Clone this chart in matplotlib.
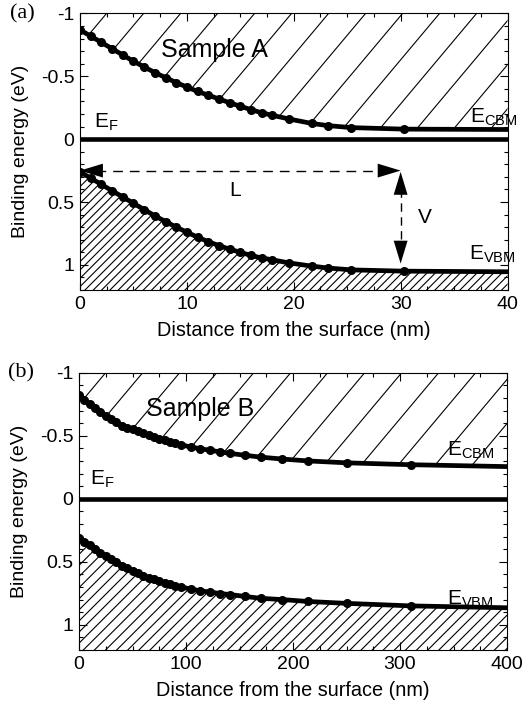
import numpy as np
import matplotlib
matplotlib.use('Agg')
import matplotlib.pyplot as plt
from matplotlib.patches import Polygon
from matplotlib.ticker import MultipleLocator, FixedLocator, FixedFormatter

plt.rcParams['font.family'] = ['Liberation Sans', 'DejaVu Sans']
plt.rcParams['mathtext.fontset'] = 'custom'
plt.rcParams['mathtext.rm'] = 'Liberation Sans'
plt.rcParams['mathtext.it'] = 'Liberation Sans:italic'
plt.rcParams['hatch.linewidth'] = 0.8
plt.rcParams['axes.unicode_minus'] = False

# ---------------- data ----------------
# Sample A (distance in nm, binding energy in eV)
xa = [0, 1, 2, 3, 4, 5, 6, 7, 8, 9, 10, 11, 12, 13, 14, 15, 16, 17,
      18, 19.6, 21.7, 23.2, 25.4, 30.3, 40]
cbm_a = [-0.87, -0.82, -0.77, -0.72, -0.67, -0.62, -0.575, -0.53, -0.49,
         -0.45, -0.415, -0.38, -0.35, -0.32, -0.29, -0.262, -0.235, -0.21,
         -0.19, -0.16, -0.125, -0.108, -0.092, -0.08, -0.077]
vbm_a = [0.26, 0.31, 0.36, 0.41, 0.46, 0.51, 0.56, 0.61, 0.655, 0.70, 0.74,
         0.78, 0.815, 0.847, 0.875, 0.90, 0.925, 0.945,
         0.96, 0.985, 1.01, 1.025, 1.04, 1.05, 1.055]

# Sample B
xb = [0, 5, 10, 15, 20, 25, 30, 35, 40, 45, 50, 55, 60, 65, 70, 75, 80, 85,
      90, 95, 105, 113, 122, 132, 141, 155, 170, 190, 214, 250, 310, 400]
cbm_b = [-0.82, -0.785, -0.75, -0.72, -0.69, -0.66, -0.63, -0.605, -0.58,
         -0.565, -0.55, -0.535, -0.52, -0.505, -0.49, -0.477, -0.465, -0.452,
         -0.44, -0.428, -0.41, -0.397, -0.385, -0.372, -0.36, -0.345, -0.33,
         -0.315, -0.30, -0.285, -0.27, -0.255]
vbm_b = [0.31, 0.34, 0.37, 0.40, 0.43, 0.455, 0.48, 0.505, 0.53, 0.55, 0.57,
         0.59, 0.61, 0.625, 0.64, 0.652, 0.665, 0.678, 0.69, 0.70, 0.717,
         0.73, 0.74, 0.752, 0.76, 0.775, 0.79, 0.80, 0.815, 0.83, 0.85, 0.865]

yticks = [-1, -0.5, 0, 0.5, 1]
ytick_labels = ['-1', '-0.5', '0', '0.5', '1']
xticks_a = [0, 10, 20, 30, 40]
xticks_b = [0, 100, 200, 300, 400]
ylim = (1.2, -1)

W, H = 522, 704
fig = plt.figure(figsize=(W / 100, H / 100), dpi=100)


def box(l, r, t, b):
    return [l / W, 1 - b / H, (r - l) / W, (b - t) / H]


ax_a = fig.add_axes(box(80, 507.5, 13.5, 290))
ax_b = fig.add_axes(box(79, 507, 372.7, 650))


def draw_panel(ax, x, cbm, vbm, xmax, xticks, minor, sample, lab,
               ef_pos, cbm_pos, vbm_pos, samp_pos, low_hatch):
    ax.set_xlim(0, xmax)
    ax.set_ylim(*ylim)
    # dense hatching under the valence band
    ax.fill_between(x, vbm, ylim[0], facecolor='none', edgecolor='black',
                    hatch=low_hatch, linewidth=0, zorder=1)
    # sparse hatching above the conduction band
    verts = list(zip(x, cbm)) + [(x[-1], ylim[1]), (x[0], ylim[1])]
    poly = Polygon(verts, closed=True, transform=ax.transData,
                   facecolor='none', edgecolor='none')
    ax.add_patch(poly)
    bb = ax.get_position()
    wpx = bb.width * W
    hpx = bb.height * H
    step = 37.0 / wpx
    dx = (hpx / np.tan(np.radians(50))) / wpx
    for u in np.arange(-1.0, 1.05, step):
        ln, = ax.plot([u, u + dx], [0, 1], transform=ax.transAxes,
                      color='black', lw=0.8, zorder=1)
        ln.set_clip_path(poly)

    ax.axhline(0, color='black', lw=3.3, zorder=3)
    n = len(x)
    ax.plot(x, cbm, 'o-', color='black', lw=3.4, ms=5.5,
            markevery=list(range(n - 1)), zorder=4)
    ax.plot(x, vbm, 'o-', color='black', lw=3.4, ms=5.5,
            markevery=list(range(n - 1)), zorder=4)

    ax.text(*ef_pos, r'$\mathrm{E_F}$', fontsize=15, va='baseline')
    ax.text(*cbm_pos, r'$\mathrm{E_{CBM}}$', fontsize=15, va='baseline')
    ax.text(*vbm_pos, r'$\mathrm{E_{VBM}}$', fontsize=15, va='baseline')
    ax.text(*samp_pos, sample, fontsize=18, va='center', ha='left')

    ax.yaxis.set_major_locator(FixedLocator(yticks))
    ax.yaxis.set_major_formatter(FixedFormatter(ytick_labels))
    ax.yaxis.set_minor_locator(MultipleLocator(0.1))
    ax.xaxis.set_major_locator(FixedLocator(xticks))
    ax.xaxis.set_minor_locator(MultipleLocator(minor))
    ax.tick_params(which='both', direction='in', top=True, right=True,
                   labelsize=14, width=0.8)
    ax.tick_params(which='major', length=6)
    ax.tick_params(which='minor', length=3)
    ax.tick_params(axis='y', pad=4)
    ax.tick_params(axis='x', pad=4)
    for s in ax.spines.values():
        s.set_linewidth(0.8)
    ax.set_ylabel('Binding energy (eV)', fontsize=14)
    ax.set_xlabel('Distance from the surface (nm)', fontsize=14.3)
    ax.yaxis.set_label_coords(-0.12, 0.5)
    ax.xaxis.set_label_coords(0.5, -0.113)
    ax.text(-0.135, 1.0, lab, transform=ax.transAxes, fontsize=16,
            family='Liberation Serif', ha='center', va='center')


draw_panel(ax_a, xa, cbm_a, vbm_a, 40, xticks_a, 2.5, 'Sample A', '(a)',
           (1.3, -0.09), (36.5, -0.135), (36.4, 0.96), (7.6, -0.71), '////')
draw_panel(ax_b, xb, cbm_b, vbm_b, 400, xticks_b, 25, 'Sample B', '(b)',
           (10, -0.113), (344, -0.34), (344, 0.84), (63, -0.71), '///')

# Arrows in panel a (L and V)
y_arr = 0.25
x_v = 30
ax_a.plot([1.5, 28.5], [y_arr, y_arr], color='black', lw=1,
          ls=(0, (7, 5)), zorder=5)
ax_a.plot([x_v, x_v], [0.4, 0.88], color='black', lw=1,
          ls=(0, (6, 4)), zorder=5)
hs = '-|>,head_length=1.65,head_width=0.5'
for tip, tail in [((0, y_arr), (2.4, y_arr)),
                  ((x_v, y_arr), (x_v - 2.4, y_arr)),
                  ((x_v, y_arr + 0.01), (x_v, y_arr + 0.2)),
                  ((x_v, 0.99), (x_v, 0.79))]:
    ax_a.annotate('', xy=tip, xytext=tail,
                  arrowprops=dict(arrowstyle=hs, color='black', lw=0,
                                  shrinkA=0, shrinkB=0, mutation_scale=10),
                  zorder=6)
ax_a.text(14.5, 0.41, 'L', fontsize=15, ha='center', va='center')
ax_a.text(31.6, 0.62, 'V', fontsize=15, ha='left', va='center')

fig.savefig('out.png', dpi=100)
